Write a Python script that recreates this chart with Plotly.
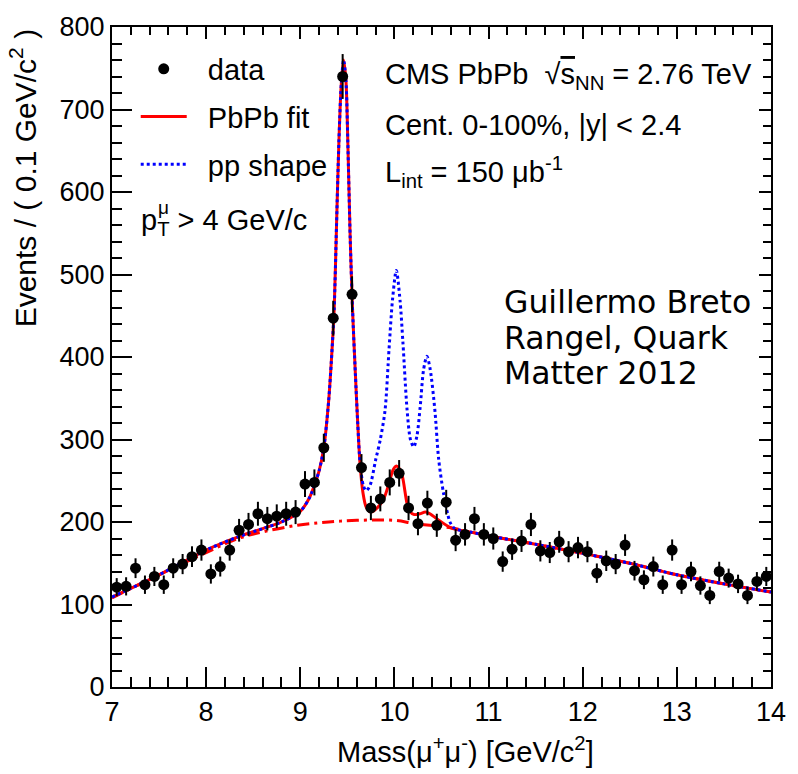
import numpy as np
import plotly.graph_objects as go

# ---------------- data ----------------
mass = [7.05, 7.15, 7.25, 7.35, 7.45, 7.55, 7.65, 7.75, 7.85, 7.95,
        8.05, 8.15, 8.25, 8.35, 8.45, 8.55, 8.65, 8.75, 8.85, 8.95,
        9.05, 9.15, 9.25, 9.35, 9.45, 9.55, 9.65, 9.75, 9.85, 9.95,
        10.05, 10.15, 10.25, 10.35, 10.45, 10.55, 10.65, 10.75, 10.85, 10.95,
        11.05, 11.15, 11.25, 11.35, 11.45, 11.55, 11.65, 11.75, 11.85, 11.95,
        12.05, 12.15, 12.25, 12.35, 12.45, 12.55, 12.65, 12.75, 12.85, 12.95,
        13.05, 13.15, 13.25, 13.35, 13.45, 13.55, 13.65, 13.75, 13.85, 13.95]
events = [121, 122, 144, 124, 134, 124, 144, 149, 158, 166,
          137, 146, 166, 190, 197, 210, 204, 207, 210, 212,
          246, 248, 290, 447, 740, 476, 266, 217, 228, 248,
          259, 217, 198, 223, 196, 224, 178, 185, 204, 185,
          180, 152, 167, 177, 197, 165, 163, 176, 164, 169,
          164, 138, 153, 149, 172, 141, 130, 146, 124, 166,
          124, 140, 123, 111, 140, 132, 125, 111, 128, 134]
events_err = np.sqrt(np.array(events, dtype=float))

# PbPb fit curve
fit_mass = [7.0, 7.5, 8.0, 8.34, 8.6, 8.8, 9.0, 9.1, 9.16, 9.2, 9.25, 9.3, 9.33, 9.36,
            9.385, 9.41, 9.435, 9.46, 9.485, 9.505, 9.53, 9.555, 9.585, 9.61, 9.635,
            9.665, 9.70, 9.75, 9.84, 9.90, 9.945, 9.985, 10.02, 10.05, 10.085, 10.135,
            10.17, 10.21, 10.27, 10.33, 10.39, 10.45, 10.6, 10.8, 11.06, 11.5, 12.0,
            12.5, 13.0, 13.5, 14.0]
fit_val = [109, 136, 166, 182, 192, 200, 213, 230, 248, 262, 290, 345, 395, 458,
           560, 660, 730, 760, 735, 660, 545, 458, 380, 320, 270,
           236, 218, 212, 220, 232, 248, 263, 268, 265, 255, 222,
           212, 209, 210, 212, 209, 204, 193, 188, 182, 173, 162,
           150, 136, 125, 115]

# pp shape curve
pp_mass = [7.0, 7.5, 8.0, 8.34, 8.6, 8.8, 9.0, 9.1, 9.16, 9.2, 9.25, 9.3, 9.33, 9.36,
           9.385, 9.41, 9.435, 9.46, 9.485, 9.505, 9.53, 9.555, 9.585, 9.61, 9.635,
           9.67, 9.70, 9.74, 9.80, 9.85, 9.90, 9.943, 9.98, 10.02, 10.06, 10.09, 10.135,
           10.17, 10.205, 10.24, 10.274, 10.31, 10.345, 10.38, 10.43, 10.47, 10.52,
           10.59, 10.64, 10.8, 11.06, 11.5, 12.0, 12.5, 13.0, 13.5, 14.0]
pp_val = [109, 136, 166, 182, 192, 200, 213, 230, 248, 262, 290, 345, 395, 458,
          560, 660, 730, 760, 735, 660, 545, 458, 380, 320, 272,
          244, 238, 244, 275, 300, 335, 410, 470, 505, 468, 418, 335,
          300, 291, 305, 340, 385, 401, 385, 335, 276, 236,
          200, 192, 188, 182, 173, 162, 150, 136, 125, 115]

# background curve
bkg_mass = [7.0, 7.5, 8.0, 8.34, 8.6, 8.97, 9.3, 9.6, 10.0, 10.22, 10.6, 10.8,
            11.06, 11.5, 12.0, 12.5, 13.0, 13.5, 14.0]
bkg_val = [108, 136, 163, 180, 188, 196, 200, 202, 202, 198, 193, 188,
           182, 173, 162, 150, 136, 125, 115]

x_tick_vals = [7, 8, 9, 10, 11, 12, 13, 14]
y_tick_vals = [0, 100, 200, 300, 400, 500, 600, 700, 800]

# ---------------- styling ----------------
FONT = "Liberation Sans, Arial, Helvetica, sans-serif"
RED = "#ff0000"
BLUE = "#0000ff"
TXT = 29
NB = "\u00a0\u00a0"

fig = go.Figure()

fig.add_trace(go.Scatter(x=bkg_mass, y=bkg_val, mode="lines", line_shape="spline",
                         line=dict(color=RED, width=3, dash="12px,5px,3px,5px"),
                         showlegend=False, hoverinfo="skip"))
fig.add_trace(go.Scatter(x=fit_mass, y=fit_val, mode="lines", line_shape="spline",
                         line=dict(color=RED, width=3, smoothing=0.8),
                         name=NB + "PbPb fit", legendgroup="b", legendrank=2))
fig.add_trace(go.Scatter(x=pp_mass, y=pp_val, mode="lines", line_shape="spline",
                         line=dict(color=BLUE, width=3, dash="dot", smoothing=0.8),
                         name=NB + "pp shape", legendgroup="c", legendrank=3))
fig.add_trace(go.Scatter(x=mass, y=events, mode="markers", name=NB + "data",
                         legendgroup="a", legendrank=1,
                         marker=dict(color="black", size=11, symbol="circle"),
                         error_y=dict(type="data", array=events_err, color="black",
                                      thickness=2, width=0)))
# empty traces to realise the top and right overlay axes
fig.add_trace(go.Scatter(x=[], y=[], xaxis="x2", yaxis="y", showlegend=False))
fig.add_trace(go.Scatter(x=[], y=[], xaxis="x", yaxis="y2", showlegend=False))

axis_common = dict(showgrid=False, zeroline=False, linecolor="black", linewidth=2,
                   ticks="inside", tickcolor="black", tickwidth=2)

fig.update_layout(
    width=798, height=774,
    margin=dict(l=112, r=17, t=18, b=87),
    paper_bgcolor="white", plot_bgcolor="white",
    font=dict(family=FONT, color="black", size=TXT),
    xaxis=dict(range=[7, 14], tickvals=x_tick_vals, ticklen=20,
               tickfont=dict(size=27, family=FONT),
               minor=dict(dtick=0.2, tick0=7, ticklen=10, ticks="inside",
                          tickcolor="black", tickwidth=2),
               **axis_common),
    yaxis=dict(range=[0, 800], tickvals=y_tick_vals, ticklen=20,
               tickfont=dict(size=27, family=FONT),
               minor=dict(dtick=20, tick0=0, ticklen=10, ticks="inside",
                          tickcolor="black", tickwidth=2),
               **axis_common),
    xaxis2=dict(range=[7, 14], overlaying="x", side="top", anchor="y",
                tickvals=x_tick_vals, ticklen=12, showticklabels=False,
                minor=dict(dtick=0.2, tick0=7, ticklen=8, ticks="inside",
                           tickcolor="black", tickwidth=2),
                **axis_common),
    yaxis2=dict(range=[0, 800], overlaying="y", side="right", anchor="x",
                tickvals=y_tick_vals, ticklen=12, showticklabels=False,
                minor=dict(dtick=20, tick0=0, ticklen=8, ticks="inside",
                           tickcolor="black", tickwidth=2),
                **axis_common),
    legend=dict(x=0.036, y=0.975, xanchor="left", yanchor="top",
                bgcolor="rgba(0,0,0,0)", borderwidth=0,
                font=dict(size=TXT, family=FONT),
                traceorder="grouped", tracegroupgap=7, itemwidth=46),
    showlegend=True,
)

def px2x(px):
    return (px - 112) / 669.0

def py2y(py):
    return (687 - py) / 669.0

ann = []
ann.append(dict(text="Events / ( 0.1 GeV/c<sup>2</sup> )", textangle=-90,
                x=px2x(22), y=1.0, xanchor="center", yanchor="top",
                font=dict(size=30, family=FONT)))
ann.append(dict(text="Mass(μ<sup>+</sup>μ<sup>-</sup>) [GeV/c<sup>2</sup>]",
                x=px2x(471), y=py2y(751), xanchor="center", yanchor="middle",
                font=dict(size=29, family=FONT)))
ann.append(dict(text="CMS PbPb  √<span style='text-decoration:overline'>s</span><sub>NN</sub> = 2.76 TeV",
                x=px2x(387), y=py2y(68), xanchor="left", yanchor="middle"))
ann.append(dict(text="Cent. 0-100%, |y| < 2.4",
                x=px2x(387), y=py2y(117), xanchor="left", yanchor="middle"))
ann.append(dict(text="L<sub>int</sub> = 150 μb<sup>-1</sup>",
                x=px2x(387), y=py2y(165), xanchor="left", yanchor="middle"))
ann.append(dict(text="p<sub>T</sub> > 4 GeV/c",
                x=px2x(139), y=py2y(216), xanchor="left", yanchor="middle"))
ann.append(dict(text="μ", x=px2x(157), y=py2y(201), xanchor="left", yanchor="middle",
                font=dict(size=19, family=FONT)))
for txt, yy in [("Guillermo Breto", 297), ("Rangel, Quark", 333), ("Matter 2012", 369)]:
    ann.append(dict(text=txt, x=px2x(508), y=py2y(yy), xanchor="left", yanchor="middle",
                    font=dict(size=31.5, family="DejaVu Sans, Verdana, sans-serif")))

for a in ann:
    a.update(xref="paper", yref="paper", showarrow=False)
fig.update_layout(annotations=ann)

fig.write_html("out.html")
